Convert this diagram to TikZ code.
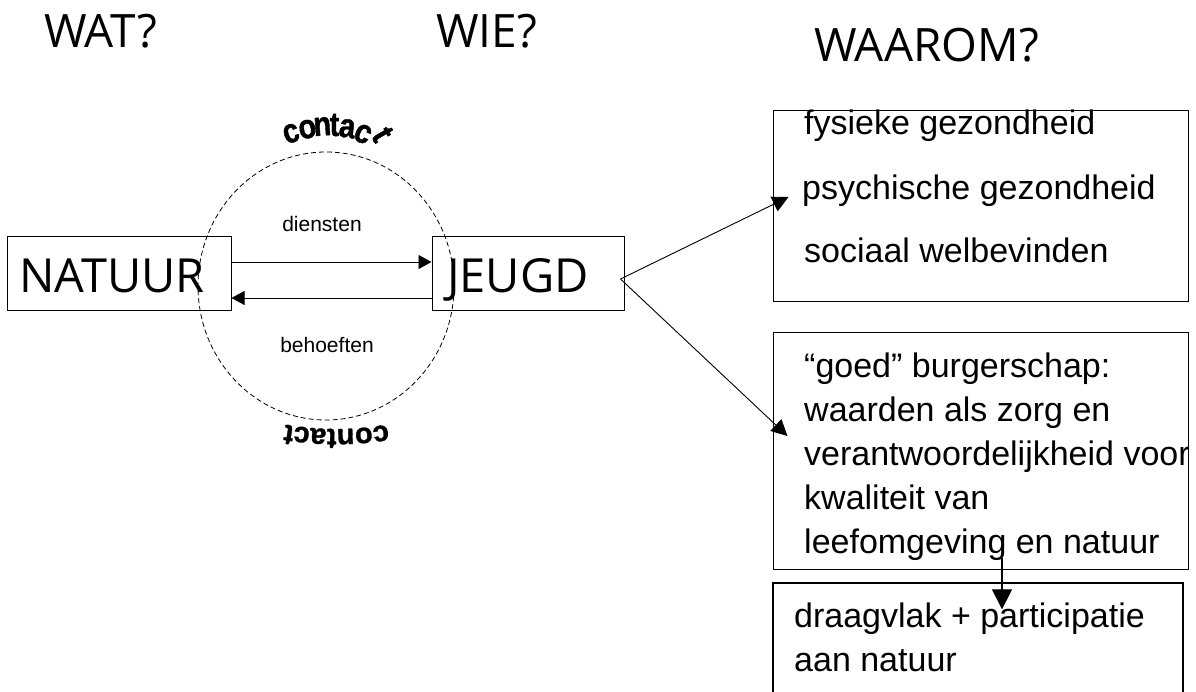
\documentclass[tikz,border=0pt]{standalone}
\usepackage{fontspec}
\setmainfont{Liberation Sans}
\setsansfont{Liberation Sans}
\newfontfamily\osfont{Open Sans}
\newfontfamily\cfont[FakeStretch=0.85,FakeBold=1.2]{Liberation Sans}
\newfontfamily\cbfont[FakeBold=1]{Liberation Sans}
\usetikzlibrary{arrows.meta,shapes.geometric}
\begin{document}
\begin{tikzpicture}[x=1pt,y=1pt,
  box/.style={draw,line width=1pt,inner sep=0pt,rectangle},
  arr/.style={line width=0.9pt,-{Triangle[length=13pt,width=14pt]}},
  arrbig/.style={line width=0.9pt,-{Triangle[length=16pt,width=16pt]}},
  arrv/.style={line width=1.2pt,-{Triangle[length=20pt,width=20pt]}},
  title/.style={anchor=base west,inner sep=0pt,font=\osfont\fontsize{46}{46}\selectfont},
  big/.style={anchor=base west,inner sep=0pt,font=\osfont\fontsize{47}{47}\selectfont},
  rtext/.style={anchor=base west,inner sep=0pt,align=left,font=\fontsize{34}{44}\selectfont},
  small/.style={anchor=base,inner sep=0pt,font=\fontsize{21}{21}\selectfont},
  ctop/.style={anchor=base,inner sep=0pt,font=\cfont\fontsize{34}{34}\selectfont\bfseries},
  cbot/.style={anchor=base,inner sep=0pt,font=\cbfont\fontsize{29}{29}\selectfont\bfseries}]
\useasboundingbox (0,0) rectangle (1196,691);
\clip (0,0) rectangle (1196,691);
% titles
\node[title] (wat) at (44,643) {WAT?};
\node[title] (wie) at (436,643) {WIE?};
\node[title] (waarom) at (814,629) {WAAROM?};
% dashed circle
\node[draw,ellipse,dash pattern=on 5pt off 3pt,line width=0.8pt,inner sep=0pt,
  minimum width=256pt,minimum height=268pt] (circ) at (326,405) {};
% main boxes
\node[box,minimum width=224pt,minimum height=74pt] (nat) at (119,417) {};
\node[box,minimum width=192pt,minimum height=74pt] (jeu) at (528,417) {};
\node[big] (natt) at (19,398) {NATUUR};
\node[big] (jeut) at (447,398) {JEUGD};
% arrows between
\draw[arr] ([yshift=12pt]nat.east) -- ([yshift=12pt]jeu.west);
\draw[arr] ([yshift=-24pt]jeu.west) -- ([yshift=-24pt]nat.east);
\node[small] (dien) at (322,459) {diensten};
\node[small] (beh) at (327,338) {behoeften};
% contact (top, arched)
\foreach \ch/\x/\y/\r [count=\i] in {c/294/549/18,o/309/553/10,n/323/555.5/4,t/334.5/555/0,a/346/553.6/-8,c/359/549/-25,t/373/551/-60}
  \node[ctop,rotate=\r] (ct\i) at (\x,\y) {\ch};
% contact (bottom, upside down)
\foreach \ch/\a [count=\i] in {c/278.3,o/275.1,n/271.7,t/269.1,a/266.6,c/263.5,t/261.1}
  \node[cbot,rotate=\a-90] (cb\i) at ([shift={(\a:300)}]336.5,562) {\ch};
% right boxes
\node[box,minimum width=415pt,minimum height=191pt] (b1) at (980.5,484.5) {};
\node[box,minimum width=415pt,minimum height=236pt] (b2) at (980.5,240) {};
\node[box,line width=1.3pt,minimum width=410pt,minimum height=118pt] (b3) at (978,49) {};
\node[rtext] (b1a) at (804,556) {fysieke gezondheid};
\node[rtext] (b1b) at (802,491) {psychische gezondheid};
\node[rtext] (b1c) at (804,428) {sociaal welbevinden};
\node[rtext] (b2t) at (804,138) {“goed” burgerschap:\\waarden als zorg en\\verantwoordelijkheid voor\\kwaliteit van\\leefomgeving en natuur};
\node[rtext] (b3t) at (794,20) {draagvlak + participatie\\aan natuur};
% connectors
\draw[arrbig] ([xshift=-4pt,yshift=-5pt]jeu.east) -- ([xshift=16pt,yshift=9.5pt]b1.west);
\draw[arrbig] ([xshift=-4pt,yshift=-5pt]jeu.east) -- ([xshift=15pt,yshift=15pt]b2.west);
\draw[arrv] ([xshift=21.5pt,yshift=12pt]b2.south) -- ([xshift=24pt,yshift=-27pt]b3.north);
\end{tikzpicture}
\end{document}
